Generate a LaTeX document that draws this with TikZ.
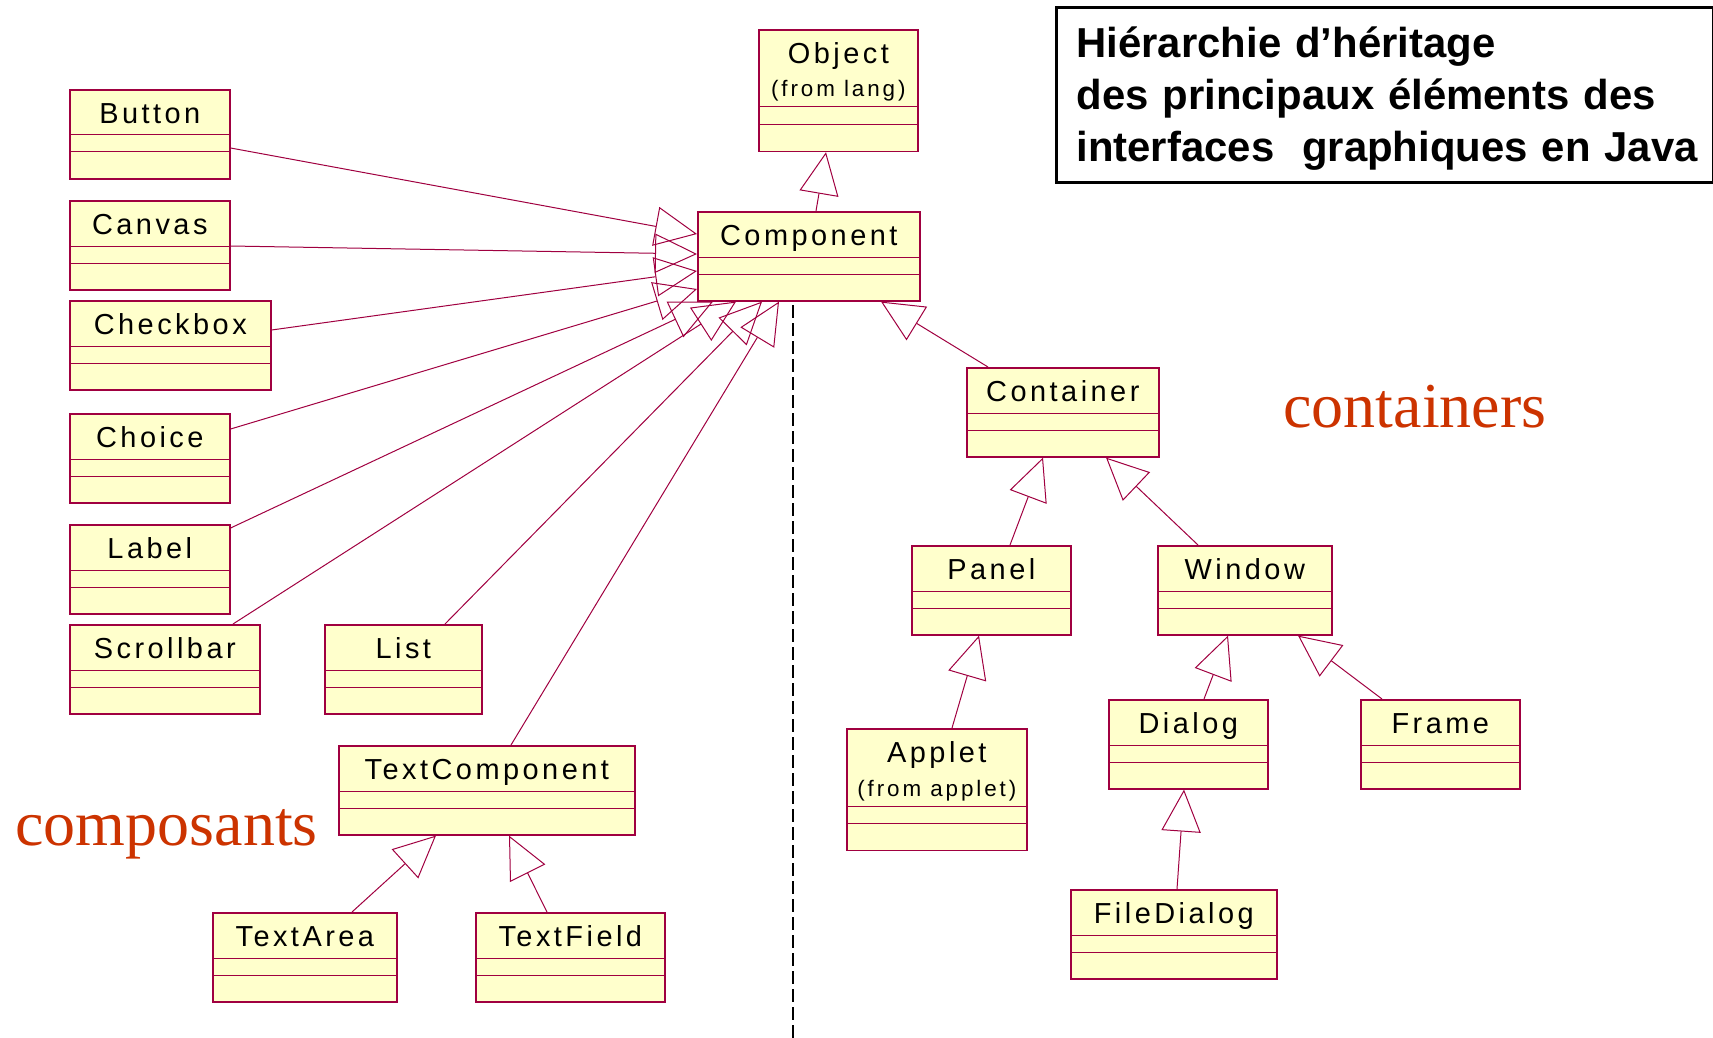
\documentclass[tikz,border=0pt]{standalone}
\usepackage{fontspec}
\setmainfont{Liberation Serif}
\newfontfamily\umlfont[LetterSpace=12]{Liberation Sans}
\newfontfamily\umlsmallfont[LetterSpace=13]{Liberation Sans}
\newfontfamily\titlefont{Liberation Sans}
\usetikzlibrary{arrows.meta,calc}

\definecolor{umlborder}{RGB}{160,0,64}
\definecolor{umlfill}{RGB}{255,255,204}
\definecolor{capred}{RGB}{204,51,0}

\tikzset{every picture/.style={line width=0.75pt}}
\tikzset{
  umlbox/.style={draw=umlborder, fill=umlfill, line width=1.2pt, anchor=north west, inner sep=0pt},
  umlname/.style={font=\umlfont\fontsize{21.7}{26}\selectfont, anchor=base, inner sep=0pt},
  umlpkg/.style={font=\umlsmallfont\fontsize{16.8}{20}\selectfont, anchor=base, inner sep=0pt},
  umldiv/.style={draw=umlborder, line width=0.75pt},
  inherit/.style={draw=umlborder, line join=miter, -{Triangle[open, length=31.5pt, width=29.5pt]}},
  separator/.style={draw=black, line width=2.2pt, dash pattern=on 9.5pt off 4pt},
  caption/.style={font=\fontsize{48}{57}\selectfont, text=capred, anchor=base west, inner sep=0pt},
}

% class box: id, x, y, width, name
\newcommand{\umlclass}[5]{%
  \node[umlbox, minimum width=#4*0.75pt, minimum height=89*0.75pt] (#1) at (#2,#3) {};
  \node[umlname] (#1-name) at ($(#1.north)+(0,34.7)$) {#5};
  \draw[umldiv] ($(#1.north west)+(0,46)$) -- ($(#1.north east)+(0,46)$);
  \draw[umldiv] ($(#1.north west)+(0,63)$) -- ($(#1.north east)+(0,63)$);
}
% class box with package line: id, x, y, width, name, package
\newcommand{\umlpkgclass}[6]{%
  \node[umlbox, minimum width=#4*0.75pt, minimum height=121.6*0.75pt] (#1) at (#2,#3) {};
  \node[umlname] (#1-name) at ($(#1.north)+(0,34.6)$) {#5};
  \node[umlpkg] (#1-pkg) at ($(#1.north)+(0,68)$) {#6};
  \draw[umldiv] ($(#1.north west)+(0,78)$) -- ($(#1.north east)+(0,78)$);
  \draw[umldiv] ($(#1.north west)+(0,95.6)$) -- ($(#1.north east)+(0,95.6)$);
}

\begin{document}
\begin{tikzpicture}[x=0.75pt,y=0.75pt,yscale=-1,xscale=1]
\useasboundingbox (0,0) rectangle (1713,1038);

%Classes: composants
\umlclass{button}{69}{89}{160}{Button}
\umlclass{canvas}{69}{200}{160}{Canvas}
\umlclass{checkbox}{69}{300}{201}{Checkbox}
\umlclass{choice}{69}{413}{160}{Choice}
\umlclass{label}{69}{524}{160}{Label}
\umlclass{scrollbar}{69}{624}{190}{Scrollbar}
\umlclass{list}{324}{624}{157}{List}
\umlclass{textcomp}{338}{745}{296}{TextComponent}
\umlclass{textarea}{212}{912}{184}{TextArea}
\umlclass{textfield}{475}{912}{189}{TextField}
%Classes: top
\umlpkgclass{object}{758}{29}{159}{Object}{(from lang)}
\umlclass{comp}{697}{211}{222}{Component}
%Classes: containers
\umlclass{container}{966}{367}{192}{Container}
\umlclass{panel}{911}{545}{159}{Panel}
\umlclass{window}{1157}{545}{174}{Window}
\umlpkgclass{applet}{846}{728}{180}{Applet}{(from applet)}
\umlclass{dialog}{1108}{699}{159}{Dialog}
\umlclass{frame}{1360}{699}{159}{Frame}
\umlclass{filedialog}{1070}{889}{206}{FileDialog}

%Inheritance: Component
\draw[inherit] ($(comp.north west)+(119,0)$) -- ($(object.south west)+(68,0)$);
%Inheritance: fan into Component
\draw[inherit] ($(button.north east)+(0,59)$) -- ($(comp.north west)+(0,23)$);
\draw[inherit] ($(canvas.north east)+(0,46)$) -- ($(comp.north west)+(0,43)$);
\draw[inherit] ($(checkbox.north east)+(0,30)$) -- ($(comp.north west)+(0,60)$);
\draw[inherit] ($(choice.north east)+(0,16)$) -- ($(comp.north west)+(0,78)$);
\draw[inherit] ($(label.north east)+(0,4)$) -- ($(comp.south west)+(16,0)$);
\draw[inherit] ($(scrollbar.north west)+(164,0)$) -- ($(comp.south west)+(39,0)$);
\draw[inherit] ($(list.north west)+(121,0)$) -- ($(comp.south west)+(65,0)$);
\draw[inherit] ($(textcomp.north west)+(173,0)$) -- ($(comp.south west)+(82,0)$);
%Inheritance: TextComponent
\draw[inherit] ($(textarea.north west)+(140,0)$) -- ($(textcomp.south west)+(98,0)$);
\draw[inherit] ($(textfield.north west)+(72,0)$) -- ($(textcomp.south west)+(171,0)$);
%Inheritance: containers
\draw[inherit] ($(container.north west)+(22,0)$) -- ($(comp.south west)+(184,0)$);
\draw[inherit] ($(panel.north west)+(99,0)$) -- ($(container.south west)+(77,0)$);
\draw[inherit] ($(window.north west)+(41,0)$) -- ($(container.south west)+(140,0)$);
\draw[inherit] ($(applet.north west)+(106,0)$) -- ($(panel.south west)+(68,0)$);
\draw[inherit] ($(dialog.north west)+(96,0)$) -- ($(window.south west)+(71,0)$);
\draw[inherit] ($(frame.north west)+(22,0)$) -- ($(window.south west)+(141,0)$);
\draw[inherit] ($(filedialog.north west)+(107,0)$) -- ($(dialog.south west)+(76,0)$);

%Separator
\coordinate (sep-top) at (793,305);
\coordinate (sep-bot) at (793,1038);
\draw[separator] (sep-top) -- (sep-bot);

% Text Node
\node[caption] (cap-composants) at (15,845) {composants};
% Text Node
\node[caption] (cap-containers) at (1283,427) {containers};

%Title box
\node[draw=black, line width=2.25pt, anchor=north west, inner sep=0pt, minimum width=656.5*0.75pt, minimum height=175*0.75pt] (titlebox) at (1055,6.5) {};
% Text Node
\node[font=\titlefont\bfseries\fontsize{31.4}{39}\selectfont, text width=640*0.75pt, align=left, anchor=base west, inner sep=0pt] (title) at (1076,58) {Hiérarchie d’héritage\\des principaux éléments des\\interfaces\ \ graphiques en Java};

\end{tikzpicture}
\end{document}
